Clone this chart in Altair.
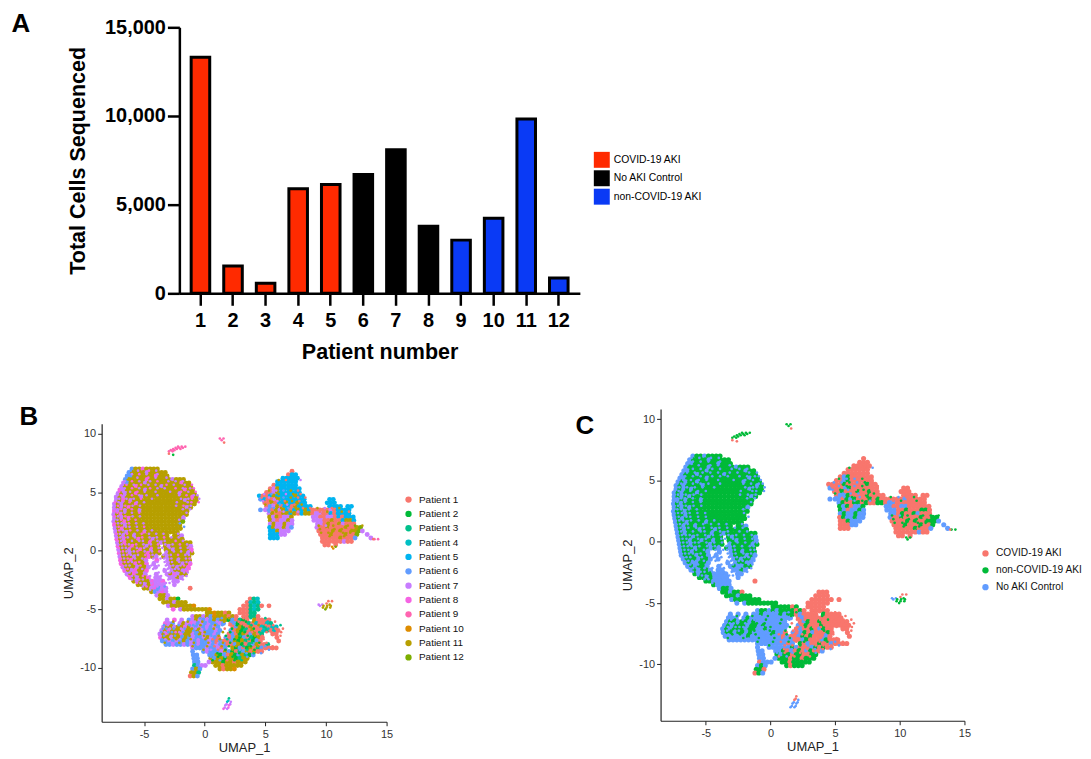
import altair as alt
import pandas as pd

FONT = "Liberation Sans"

# Panel A
PATIENT_NUMBERS = [1, 2, 3, 4, 5, 6, 7, 8, 9, 10, 11, 12]
TOTAL_CELLS = [13310, 1540, 570, 5895, 6135, 6700, 8100, 3785, 3000, 4230, 9835, 870]
CONDITION_NAMES = ["COVID-19 AKI", "No AKI Control", "non-COVID-19 AKI"]
BAR_COLORS = ["#ff2a00", "#000000", "#0a3af5"]
PATIENT_CONDITION = ["COVID-19 AKI"] * 5 + ["No AKI Control"] * 3 + ["non-COVID-19 AKI"] * 4

# Panels B and C
PATIENT_NAMES = ["Patient %d" % n for n in PATIENT_NUMBERS]
PATIENT_COLORS = ["#F8766D", "#00BA38", "#00C08B", "#00BFC4", "#00B4F0", "#619CFF",
                  "#C77CFF", "#F564E3", "#FF64B0", "#DE8C00", "#B79F00", "#7CAE00"]
C_NAMES = ["COVID-19 AKI", "non-COVID-19 AKI", "No AKI Control"]
C_COLORS = ["#F8766D", "#00BA38", "#619CFF"]
CODES = "abcdefghijkl"   # one letter per patient
STEP = 0.3               # spacing of the letters along a row, in UMAP_1 units

# (UMAP_2, first UMAP_1, patient letter of each cell)
UPPER_CLUSTER = [
    (7.0, -6.0, "fkkhkkkk"), (6.7, -6.25, "fkkkkgkkkkk"), (6.4, -6.4, "ffkkkkkkhkkk"),
    (6.1, -6.55, "fkkkkkhkkkkkkgkkk"), (5.8, -6.7, "gfkkkkgkkkkkkkkkhkk"),
    (5.5, -6.85, "gkkkhkkkkkkgkkkkkkkk"), (5.2, -7.0, "hgkkkkkgkkkkkkkkkkhkk"),
    (4.9, -7.15, "gkgkkhkkkkkkkkkkkgkkkk"), (4.6, -7.3, "gkgkkkkgkkkkkkkkkkkkkhk"),
    (4.3, -7.3, "gkhkgkkkkkkkkkkkkkkgkkk"), (4.0, -7.45, "gkgkkkhkkkkkkkkkkkkkkkk"),
    (3.7, -7.45, "gkgkhkkkkkkkkkkkkkkkgk"), (3.4, -7.45, "hgkgkkkgkkkkkkkkkkkkk"),
    (3.1, -7.5, "gkhkkkkkkkkkkkkkkkkkk"), (2.8, -7.45, "gkgkhkkkkkkkkkkkkkkg"),
    (2.5, -7.5, "gkkhkkkkkkkkkkkkkkkl"), (2.2, -7.45, "hkkgkkkkkkkkkkkkkkk"),
    (1.9, -7.4, "gkhkkkkkkkkkkkkkkkk"), (1.6, -7.35, "gkkgkkkkhkkkkkkkkk"),
    (1.3, -7.3, "gkgkkgkkkkkkkkk.kkg"), (1.0, -7.25, "hkgkkkhkkkgkkkkkkkk."),
    (0.7, -7.2, "gkhkkkkkkhkkgkkkkkkkk"), (0.4, -7.15, "hkkkhkkkgkkk.kgkkkkkg"),
    (0.1, -7.1, "gkkgkkhkkgkk.kkgkkkkh"), (-0.2, -7.05, "hkkgkkkkhkkk.gkkkkkgk"),
    (-0.5, -7.0, "gkkkgkkkhkg.kgkkkkkk"), (-0.8, -6.95, "hkkhkkkg..h..gkkgkkk"),
    (-1.1, -6.9, "hkkkhkkh.g...gkkkgkh"), (-1.4, -6.75, "gkkkgkkg.g...gkgkkh"),
    (-1.7, -6.6, "hkghkkh....g.gkkgh"), (-2.0, -6.4, "gkhkkg..g..gkhgkk"),
    (-2.3, -6.15, "hkgkkh.gg..ggkg"), (-2.6, -5.85, "kgkkkhggh..gg"),
    (-2.9, -5.5, "kkgkhggg..g"), (-3.2, -5.0, "kkghfgg"), (-3.2, -1.2, "a"),
    (-3.5, -4.4, "kfghg"), (-3.8, -3.95, "gkkg"), (-4.1, -3.7, "kkgkkb"),
    (-4.4, -3.4, "kkkgkkk"), (-4.7, -3.0, "gkkkkkkj"), (-5.0, -2.6, "h.gkkkkkkkj"),
]
LOWER_CLUSTER = [
    (-4.1, 3.75, "acd"), (-4.4, 3.5, "adcd"), (-4.7, 3.2, "aacdca.a"), (-5.0, 2.9, "aaacdc"),
    (-5.3, 0.2, "kkjkkak..aaacc"), (-5.6, -1.0, "gkkgkfjkkkaka.aacca"),
    (-5.9, -3.1, "g.h.g.fgkgfgfkfkkbfacba.kaaaa"),
    (-6.2, -3.25, "hgf.gkghgfgfgffgf.afbaacadaadc"),
    (-6.5, -3.4, "gkkgkkhkgfgfgfgf...afkbakaadcadd"),
    (-6.8, -3.55, "gkhkkkgkkfkgfffgf..fakbcakaadcada"),
    (-7.1, -3.7, "gkhkkkhkkgfkgffgf..afabkafkac..aa"),
    (-7.4, -3.65, "hkkgkkfkfgffgkgfa.fafkbfacbka...a"),
    (-7.7, -3.5, "ffgfgfkfgfgffgfafaafkbkcabfa....a"),
    (-8.0, -3.2, "ffgffgfgfgffgfgffaafkbacfkaac.."),
    (-8.3, -1.0, "gfffgffgaf.kbfabkacfaaaa"), (-8.6, -0.1, "fgfffgkfbacfkakaa"),
    (-8.9, 0.4, "ffkbfakbfkcbf"), (-9.2, 0.5, "kfkkbkkbckk"), (-9.5, 0.65, "kkkbkkakkk"),
    (-9.8, 0.9, "kkakkkkk"), (-10.1, 1.25, "kakkj"),
    (-8.6, -1.0, "f"), (-8.9, -0.95, "ff"), (-9.2, -0.9, "ff"), (-9.5, -0.85, "ff..g"),
    (-9.8, -0.85, "cfgg"), (-10.1, -1.0, "fkf"), (-10.4, -1.1, "kkc"), (-10.7, -1.2, "akf"),
]
RIGHT_CLUSTER = [
    (6.8, 7.2, "a"), (6.5, 6.9, "aee"), (6.2, 6.45, "eeeee"), (5.9, 6.0, "eeeeee"),
    (5.6, 5.7, "aeeeeee"), (5.3, 5.4, "agkeeeeee"), (5.0, 5.1, "aagkeeeeee"),
    (4.7, 4.5, "eaaekeeeeekee"), (4.4, 4.6, "feaagkeeeeeee"), (4.4, 10.3, "ee"),
    (4.1, 4.95, "aakaeekeekee"), (4.1, 10.1, "eee"),
    (3.8, 5.1, "afgkaeeakeeee"), (3.8, 10.3, "eeee.ee"),
    (3.5, 5.0, "gfakgkeaekekeaaaaagaeeee"), (3.5, 4.6, "f"), (3.2, 5.3, "gkaakkekaekkaggaaeaeeee"),
    (2.9, 5.35, "kgkaggk.....ggaaggaeaeee"), (2.6, 5.4, "kgaggkg.....gggaakaaekke"),
    (2.3, 5.4, "gkggkgg......ggakaakgaaa"), (2.0, 5.35, "ekggkgf"), (2.0, 9.25, "gaakaaaakaakl"),
    (1.7, 5.4, "eekggg"), (1.7, 9.4, "aaaakakaakkl"), (1.7, 13.0, "g"),
    (1.4, 5.4, "eeegg"), (1.4, 9.55, "aaakaaakaal"), (1.4, 13.4, "g"),
    (1.1, 5.4, "eee"), (1.1, 9.7, "aaaaakaaaf"), (1.1, 13.7, "g"),
    (0.8, 9.7, "aaaaaagaa"), (0.5, 9.9, "aa.a"),
]
# finer flecks lying on top of the clusters
FLECKS = [
    (6.85, -6.1, "f.g..h.g.."), (6.55, -6.3, "fg.h.g..g.."), (6.25, -6.45, "f..g..h.g..g"),
    (5.95, -6.6, "g.h.g..g.h..g.g.g.."), (5.65, -6.75, "gh.g.h.g.g..h.g..g.h"),
    (5.35, -6.9, "gg.h.g..h.g.g..h.g.gh"), (5.05, -7.05, "hg.g.h.g..g...g..h.g.h"),
    (4.75, -7.2, "ghg.h.g.g..g.....g.h.gg"), (4.45, -7.35, "gghg.g.h..g.......g.gh.g"),
    (4.15, -7.4, "hgg.h.g.g........g..gh.h"), (3.85, -7.45, "ghgh.g.g.........g.h.g"),
    (3.55, -7.5, "gghg.h.g...........g.g"), (3.25, -7.5, "ghgg.g.h............g"),
    (2.95, -7.45, "hggh.g.g...........g"), (2.65, -7.5, "ggh.g.h...........g"),
    (2.35, -7.45, "hgg.h.g.g.........f"), (2.05, -7.4, "gh.gg.g.h..........f"),
    (1.75, -7.35, "ghg.h.g.g.g......."), (1.45, -7.3, "hggh.g.h.g.g.g...g"),
    (1.15, -7.25, "gghg.g.h.g.g.h.g.g"), (0.85, -7.2, "hgh.g.gg.h.g.g..h.g"),
    (0.55, -7.15, "gghg.h.g.g.h.g.g.h.g"), (0.25, -7.1, "hggh.g.g.h.gg.g..g.g"),
    (-0.05, -7.05, "ghg.gh.g.g.h.g.g.g.gh"), (-0.35, -7.0, "gghg.g.h.gg.g.g.h.gg"),
    (-0.65, -6.95, "hgh.g.gh.g.gg.g.g.gh"), (-0.95, -6.9, "ghgg.h.g.gg.g.g.g.gg"),
    (-1.25, -6.8, "hgg.gh.gg.g.g.g.gh"), (-1.55, -6.65, "ghgh.g..g..gg.gg.gh"),
    (-1.85, -6.5, "gghg.g...g..ggg.gg"), (-2.15, -6.3, "hgg.h.g.gg.ggg.gg"),
    (-2.45, -6.0, "gghg.g.gg.g.g.g"), (-2.75, -5.6, "hgg.ggg.gg"),
    (-3.05, -5.1, "gh.gg.f"), (-3.35, -4.5, "g.fgg"),
    (-5.75, -1.0, "g.f.g.k.f.k.a.a.c.a.c"),
    (-6.05, -3.2, "g.k.g.k.g.k.f.g.k.f.a.b.k.a.d.a"),
    (-6.35, -3.35, "fgk.f.gff.k.g.k.f.a.b.a.c.k.a.a.c"),
    (-6.65, -3.45, "ffgfkgf.kgk.g.k..a.b.k.c.b.a.d.a.a"),
    (-6.95, -3.6, "fgffhgf.k.f.k.f..k.b.k.b.a.c.a...a"),
    (-7.25, -3.65, "gfkgf.f.k.f.k.f.k.b.f.c.b.k.a....a"),
    (-7.55, -3.55, "fgk.kgk.k.g.k.a.k.c.b.k.c.f.a...."),
    (-7.85, -3.3, "k.g.k.f.k.f.k.a.k.b.k.a.c.b.a"),
    (-8.15, -1.0, "k.f.k.a.k.b.k.c.b.k.f.a"), (-8.45, -0.1, "k.g.a.b.k.f.c.b.a.f"),
    (-8.75, 0.45, "f.b.f.k.b.f.c.f"), (-9.05, 0.5, "f.b.f.b.c.f"), (-9.35, 0.65, "b.f.a.b.c"),
    (6.05, 6.1, "k.a.e.g"), (5.15, 5.3, "k.g.f.k.a"), (4.85, 4.9, "g.f.k.g.k.a"),
    (4.55, 4.7, "a.g.k.f.k.a.a"), (4.25, 4.8, "g.k.g.a.k.a"), (3.95, 5.0, "k.g.f.g.a.k"),
    (3.65, 5.1, "g.f.k.f.k.a.a.k.g.a.k"), (3.35, 5.3, "f.k.g.k.g.k.a.a.k.a.k.a"),
    (2.15, 9.4, "k.g.k.a.k.l.k"), (1.85, 9.5, "k.a.k.k.a.k"), (1.55, 9.6, "k.k.a.k.k"),
    (1.25, 9.7, "a.k.a.k.a"),
]
SMALL_CLUSTERS = [
    (-12.6, 2.0, "c"), (-12.8, 1.95, "d"), (-12.9, 1.85, "dg"), (-13.1, 1.8, "gg"), (-13.2, 1.7, "gh"),
    (-13.4, 1.65, "gh"), (-13.5, 1.55, "hg"),
    (8.9, -2.2, "iii"), (8.8, -2.4, "iii"), (8.7, -2.6, "iii"), (8.6, -2.8, "ii"), (8.5, -2.95, "ii"),
    (8.2, -2.6, "b"), (8.3, -2.95, "a"),
    (9.6, 1.25, "ii"), (9.45, 1.4, "i"), (9.25, 1.6, "a"),
    (-4.3, 10.2, "aa"), (-4.5, 10.05, "a"), (-4.6, 9.4, "gg.k"), (-4.7, 9.5, "gkkk"), (-4.85, 9.75, "kkk"),
    (-5.0, 9.95, "l"), (0.35, 10.5, "jl"), (0.2, 10.6, "j"), (1.0, 14.0, "ii"), (1.0, 13.9, "a"),
]


def expand(rows):
    cells = []
    for y, x0, letters in rows:
        for n, ch in enumerate(letters):
            if ch != ".":
                i = CODES.index(ch)
                cells.append({"UMAP_1": x0 + STEP * n, "UMAP_2": y,
                              "Patient": PATIENT_NAMES[i], "Condition": PATIENT_CONDITION[i]})
    return pd.DataFrame(cells)


base_cells = expand(UPPER_CLUSTER + LOWER_CLUSTER + RIGHT_CLUSTER)
fine_cells = expand(FLECKS + SMALL_CLUSTERS)
bars = pd.DataFrame({"Patient number": PATIENT_NUMBERS, "Total": TOTAL_CELLS,
                     "Condition": PATIENT_CONDITION})


def spacer(w, h):
    return alt.Chart(pd.DataFrame({"s": [0]})).mark_point(opacity=0, size=1).properties(width=w, height=h)


def letter(text, px, py):
    return alt.Chart(pd.DataFrame({"t": [text]})).mark_text(
        font=FONT, fontSize=26, fontWeight="bold", color="#000000"
    ).encode(x=alt.value(px), y=alt.value(py), text="t:N")


bar_layer = alt.Chart(bars).mark_bar(stroke="#000000", strokeWidth=3).encode(
    x=alt.X("Patient number:O", scale=alt.Scale(paddingInner=0.43, paddingOuter=0.362, round=False),
            axis=alt.Axis(labelAngle=0, labelFont=FONT, labelFontSize=20, labelFontWeight="bold",
                          labelColor="#000000", labelPadding=5, domainColor="#000000", domainWidth=2.5,
                          tickColor="#000000", tickWidth=2.5, tickSize=12,
                          title="Patient number", titleFont=FONT, titleFontSize=21.6, titleFontWeight="bold",
                          titleColor="#000000", titlePadding=11)),
    y=alt.Y("Total:Q", scale=alt.Scale(domain=[0, 15000], nice=False),
            axis=alt.Axis(values=[0, 5000, 10000, 15000], format=",d", grid=False, labelFont=FONT,
                          labelFontSize=20, labelFontWeight="bold", labelColor="#000000", labelPadding=2,
                          domainColor="#000000", domainWidth=2.5, tickColor="#000000", tickWidth=2.5,
                          tickSize=12, title="Total Cells Sequenced", titleFont=FONT, titleFontSize=21.6,
                          titleFontWeight="bold", titleColor="#000000", titlePadding=15)),
    color=alt.Color("Condition:N", scale=alt.Scale(domain=CONDITION_NAMES, range=BAR_COLORS),
                    legend=alt.Legend(orient="none", legendX=416, legendY=125, title=None,
                                      symbolType="square", symbolSize=256, symbolStrokeWidth=0,
                                      symbolOpacity=1, labelFont=FONT, labelFontSize=10.4,
                                      labelColor="#000000", labelOffset=4, rowPadding=2.5)),
)
panel_a = alt.layer(bar_layer, letter("A", -159, -3.5)).properties(width=402, height=267)


def umap_panel(width, height, field, domain, colors, legend_x, legend_y, row_pad, font_size, dot, name, lx, ly):
    axis_style = dict(grid=False, labelFont=FONT, labelFontSize=11, labelColor="#333333", domainColor="#222222",
                      domainWidth=1.2, tickColor="#222222", tickSize=4, titleFont=FONT, titleFontSize=13,
                      titleFontWeight="normal", titleColor="#222222", labelExpr="'' + datum.value",
                      labelFlush=False)
    x = alt.X("UMAP_1:Q", scale=alt.Scale(domain=[-8.5, 15], nice=False),
              axis=alt.Axis(values=[-5, 0, 5, 10, 15], title="UMAP_1", labelPadding=2.5, titlePadding=2, **axis_style))
    y = alt.Y("UMAP_2:Q", scale=alt.Scale(domain=[-14.6, 10.85], nice=False),
              axis=alt.Axis(values=[-10, -5, 0, 5, 10], title="UMAP_2", **axis_style))
    color = alt.Color(field + ":N", scale=alt.Scale(domain=domain, range=colors),
                      legend=alt.Legend(orient="none", legendX=legend_x, legendY=legend_y, title=None,
                                        symbolType="circle", symbolSize=40, labelFont=FONT,
                                        labelFontSize=font_size, labelColor="#111111", labelOffset=5.5,
                                        rowPadding=row_pad))
    base = alt.Chart(base_cells).mark_circle(size=dot, opacity=1).encode(x=x, y=y, color=color)
    fine = alt.Chart(fine_cells).mark_circle(size=7, opacity=1).encode(x=x, y=y, color=color)
    return alt.layer(base, fine, letter(name, lx, ly)).properties(width=width, height=height)


panel_b = umap_panel(286, 299, "Patient", PATIENT_NAMES, PATIENT_COLORS, 303, 71, 4.4, 10, 24, "B", -73, -7)
panel_c = umap_panel(305, 313, "Condition", C_NAMES, C_COLORS, 321, 140, 5.9, 10.2, 26, "C", -76, 17)

# A nested concatenation counts as zero size in a flush layout, so the spacers next to one
# carry its extent too.
row_a = alt.hconcat(spacer(172, 1), panel_a, spacing=0, bounds="flush").resolve_scale(color="independent")
col_b = alt.vconcat(spacer(1, 15), panel_b, spacing=0, bounds="flush").resolve_scale(color="independent")
row_bc = alt.hconcat(spacer(94, 1), col_b, spacer(561, 1), panel_c, spacing=0,
                     bounds="flush").resolve_scale(color="independent")

chart = alt.vconcat(spacer(1, 18), row_a, spacer(1, 383), row_bc, spacing=0, bounds="flush",
                    padding=0, background="#ffffff").resolve_scale(color="independent").configure_view(stroke=None)

chart.save("out.html", embed_options={"renderer": "svg", "actions": False})
